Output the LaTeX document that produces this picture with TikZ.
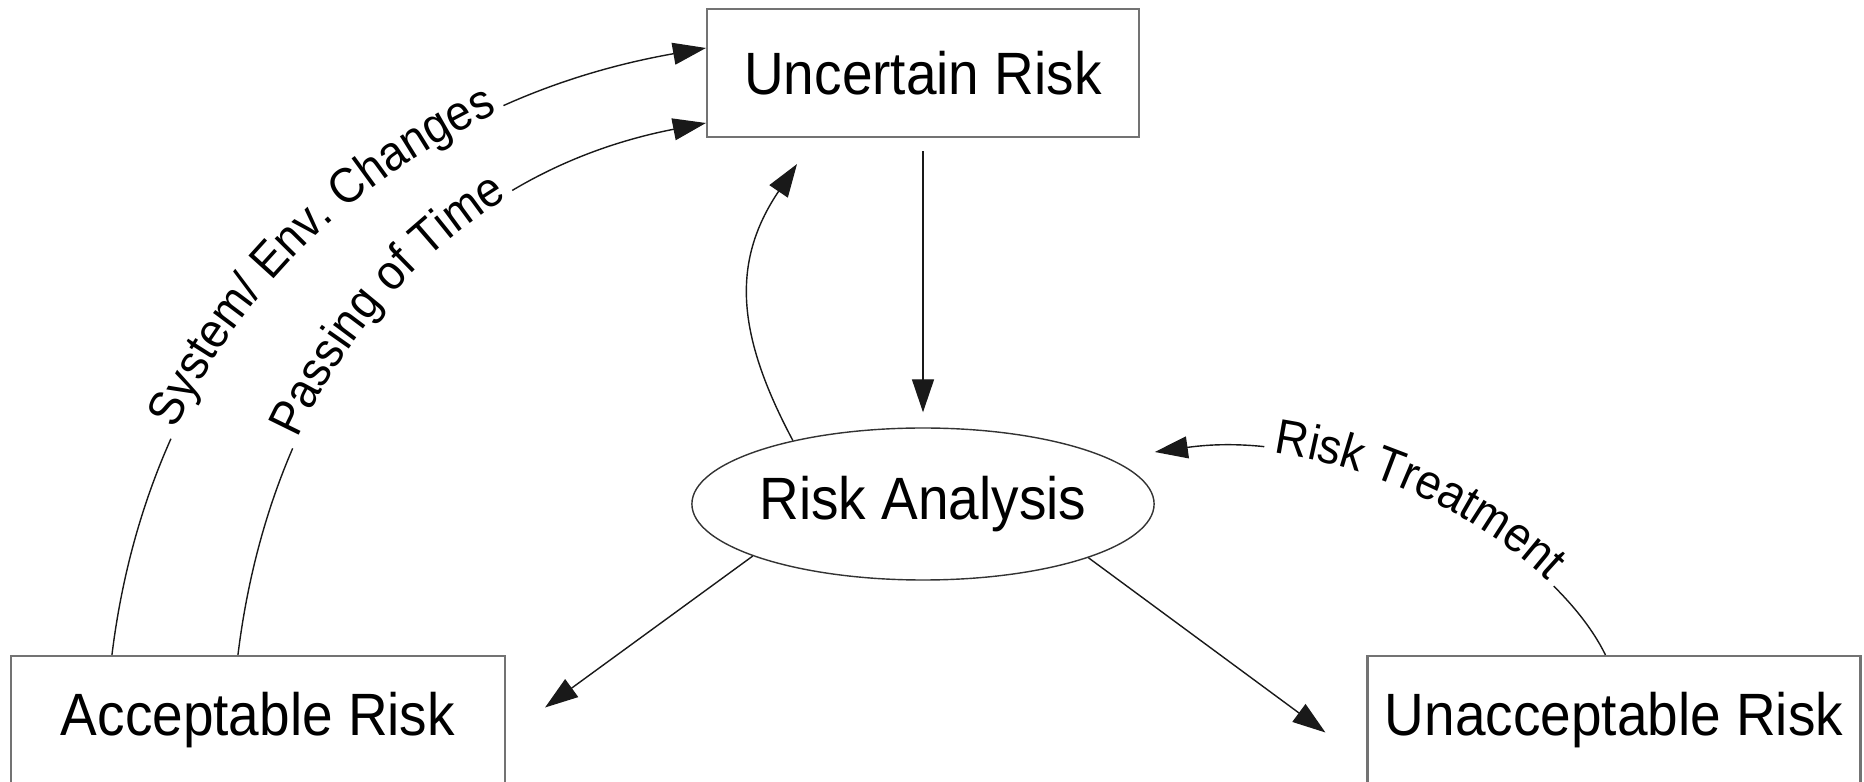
\documentclass[tikz,border=0pt]{standalone}
\usepackage{fontspec}
\setmainfont{Liberation Sans}[FakeStretch=0.92]
\usetikzlibrary{positioning,shapes.geometric,arrows.meta,decorations.text}

\newcommand{\boxfont}{\fontsize{17}{20}\selectfont}
\newcommand{\lblfont}{\fontsize{14}{16}\selectfont}

\tikzset{
  riskbox/.style={draw=black!55, line width=0.6pt, minimum height=1.28cm, font=\boxfont},
  riskoval/.style={ellipse, draw=black!80, line width=0.4pt, minimum width=4.56cm,
    minimum height=1.52cm, inner sep=0pt, font=\boxfont},
  flow/.style={line width=0.4pt, black!90}
}

\begin{document}
\begin{tikzpicture}[node distance=4.31cm, on grid, >={Triangle[length=3.3mm,width=2.2mm]}]
\useasboundingbox (0,0) rectangle (18.64,7.82);

\node [riskbox, minimum width=4.32cm] (unc) at (9.23,7.09) {Uncertain Risk};
\node [riskoval] (ana) [below = of unc] {Risk Analysis};
\node [riskbox, minimum width=4.94cm] (acc) [below left = 2.16cm and 6.65cm of ana] {Acceptable Risk};
\node [riskbox, minimum width=4.93cm] (unacc) [below right = 2.16cm and 6.91cm of ana] {Unacceptable Risk};

% free arrow ends
\coordinate (uptip) at ([xshift=-12.6mm, yshift=-2.6mm]unc.south);
\coordinate (acctip) at ([xshift=3.9mm, yshift=1.25mm]acc.east);
\coordinate (unatip) at ([xshift=-4.1mm, yshift=-1.25mm]unacc.west);
\coordinate (rttip) at ([yshift=5.2mm]ana.east);

\path [->, flow]
(unc.south) edge [shorten <=1.3mm, shorten >=1.5mm] (ana.north)
(ana.154) edge [out=118, in=236, looseness=1.1] (uptip)
(ana.197) edge (acctip)
(ana.342) edge (unatip);

% labelled arcs, the gap in the line leaves room for the text
\draw [->, flow, dash pattern=on 64pt off 137pt on 2000pt off 1pt,
  postaction={decorate, decoration={text along path, text align={left indent=67pt},
    text={|\lblfont|System/ Env. Changes}}}]
  ([xshift=10.2mm]acc.north west) to [out=83, in=190] ([yshift=2.5mm]unc.west);
\draw [->, flow, dash pattern=on 61pt off 98pt on 2000pt off 1pt,
  postaction={decorate, decoration={text along path, text align={left indent=64pt},
    text={|\lblfont|Passing of Time}}}]
  ([xshift=22.8mm]acc.north west) to [out=83, in=191] ([yshift=-5mm]unc.west);
\draw [<-, flow, dash pattern=on 22pt off 93pt on 2000pt off 1pt,
  postaction={decorate, decoration={text along path, text align={left indent=34pt},
    text={|\lblfont|Risk Treatment}}}]
  (rttip) to [out=8, in=116, out looseness=1.02, in looseness=0.62] ([xshift=23.9mm]unacc.north west);
\end{tikzpicture}
\end{document}
